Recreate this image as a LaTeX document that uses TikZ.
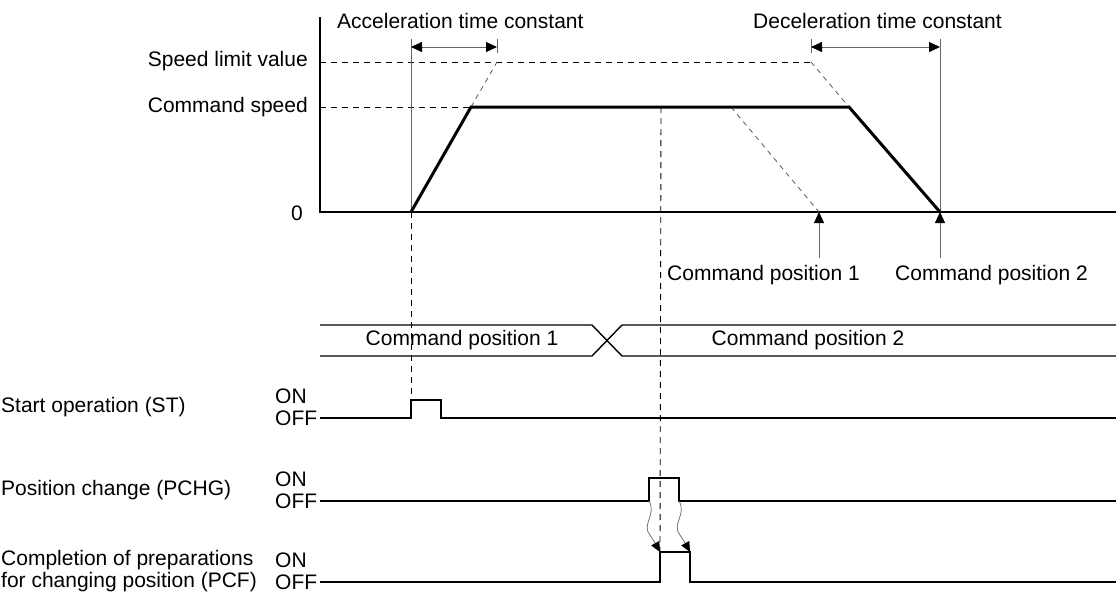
\documentclass[tikz,border=0pt]{standalone}
\usepackage{fontspec}
\setmainfont{Liberation Sans}
\usetikzlibrary{arrows.meta}
\begin{document}
\begin{tikzpicture}[x=1pt,y=-1pt,
  lbl/.style={inner sep=0pt, font=\fontsize{21}{24}\selectfont},
  axisline/.style={line width=1.4pt, black},
  guide/.style={line width=1pt, black!60},
  dashguide/.style={dash pattern=on 6pt off 5pt, line width=0.9pt, black},
  dashgray/.style={dash pattern=on 5pt off 4.5pt, line width=0.8pt, black!65},
  profile/.style={line width=3pt, black, line join=miter},
  sig/.style={line width=1.4pt, black},
  tipup/.style={-{Triangle[length=11pt,width=10pt,color=black]}, line width=1pt, black!60},
  dimarrow/.style={{Triangle[length=11pt,width=10pt,color=black]}-{Triangle[length=11pt,width=10pt,color=black]}, line width=1pt, black!60},
  wavy/.style={-{Triangle[length=10pt,width=9pt,color=black]}, line width=0.7pt, black!60},
]
\useasboundingbox (0,0) rectangle (1116,592);

% ---------- coordinates ----------
\coordinate (Atop) at (320,17);
\coordinate (O) at (320,212);
\coordinate (XE) at (1116,212);
\coordinate (SL) at (320,62);
\coordinate (SLE) at (811,62);
\coordinate (CS) at (320,107);
\coordinate (P0) at (411,212);
\coordinate (P1) at (471,107);
\coordinate (P2) at (849,107);
\coordinate (P3) at (940,212);
\coordinate (AccExt) at (497,62);
\coordinate (D1s) at (731,107);
\coordinate (D1e) at (819,212);
\coordinate (VAtop) at (411,39);
\coordinate (TAt) at (497,39);
\coordinate (TAb) at (497,53);
\coordinate (TDt) at (811,39);
\coordinate (TDb) at (811,53);
\coordinate (VEtop) at (940,39);
\coordinate (AccL) at (411,47);
\coordinate (AccR) at (497,47);
\coordinate (DecL) at (811,47);
\coordinate (DecR) at (940,47);
\coordinate (U1) at (819,258);
\coordinate (U2) at (940,258);
\coordinate (CSv) at (661,107);

% ---------- labels of the speed graph ----------
\node[lbl, anchor=east] (lsl) at (308,61) {Speed limit value};
\node[lbl, anchor=east] (lcs) at (308,107) {Command speed};
\node[lbl, anchor=east] (lzero) at (303,213) {0};
\node[lbl, anchor=west] (lacc) at (337,21) {Acceleration time constant};
\node[lbl, anchor=east] (ldec) at (1002,21) {Deceleration time constant};
\node[lbl, anchor=east] (lcp1) at (860,275) {Command position 1};
\node[lbl, anchor=west] (lcp2) at (895,275) {Command position 2};

% ---------- axes ----------
\draw[axisline] (Atop) -- (O) -- (XE);

% ---------- dashed levels ----------
\draw[dashguide] (SL) -- (SLE);
\draw[dashguide] (CS) -- (P1);
\draw[dashgray] (P1) -- (AccExt);
\draw[dashgray] (SLE) -- (P2);
\draw[dashgray] (D1s) -- (D1e);

% ---------- time constant guides ----------
\draw[guide] (VAtop) -- (P0);
\draw[guide] (VEtop) -- (P3);
\draw[guide] (TAt) -- (TAb);
\draw[guide] (TDt) -- (TDb);
\draw[dimarrow] (AccL) -- (AccR);
\draw[dimarrow] (DecL) -- (DecR);

% ---------- speed profile ----------
\draw[profile] (P0) -- (P1) -- (P2) -- (P3);

% ---------- command position arrows ----------
\draw[tipup] (U1) -- (D1e);
\draw[tipup] (U2) -- (P3);

% ---------- bus ----------
\coordinate (B1) at (320,325);
\coordinate (B2) at (592,325);
\coordinate (B3) at (622,356);
\coordinate (B4) at (1116,356);
\coordinate (B5) at (320,356);
\coordinate (B6) at (592,356);
\coordinate (B7) at (622,325);
\coordinate (B8) at (1116,325);
\draw[sig] (B1) -- (B2) -- (B3) -- (B4);
\draw[sig] (B5) -- (B6) -- (B7) -- (B8);
\node[lbl] (bus1) at (462,340) {Command position 1};
\node[lbl] (bus2) at (808,340) {Command position 2};

% ---------- ST ----------
\node[lbl, anchor=west] (stname) at (1,407) {Start operation (ST)};
\node[lbl, anchor=west] (ston) at (275,396) {ON};
\node[lbl, anchor=west] (stoff) at (275,418) {OFF};
\coordinate (S0) at (320,418);
\coordinate (S1) at (411,418);
\coordinate (S2) at (411,400);
\coordinate (S3) at (441,400);
\coordinate (S4) at (441,418);
\coordinate (S5) at (1116,418);
\draw[sig] (S0) -- (S1) -- (S2) -- (S3) -- (S4) -- (S5);

% ---------- PCHG ----------
\node[lbl, anchor=west] (pcname) at (1,490) {Position change (PCHG)};
\node[lbl, anchor=west] (pcon) at (275,479) {ON};
\node[lbl, anchor=west] (pcoff) at (275,501) {OFF};
\coordinate (C0) at (320,501);
\coordinate (C1) at (649,501);
\coordinate (C2) at (649,478);
\coordinate (C3) at (679,478);
\coordinate (C4) at (679,501);
\coordinate (C5) at (1116,501);
\draw[sig] (C0) -- (C1) -- (C2) -- (C3) -- (C4) -- (C5);

% ---------- PCF ----------
\node[lbl, anchor=west] (pfname1) at (1,560) {Completion of preparations};
\node[lbl, anchor=west] (pfname2) at (1,582) {for changing position (PCF)};
\node[lbl, anchor=west] (pfon) at (275,560) {ON};
\node[lbl, anchor=west] (pfoff) at (275,582) {OFF};
\coordinate (F0) at (320,582);
\coordinate (F1) at (660,582);
\coordinate (F2) at (660,552);
\coordinate (F3) at (690,552);
\coordinate (F4) at (690,582);
\coordinate (F5) at (1116,582);
\draw[sig] (F0) -- (F1) -- (F2) -- (F3) -- (F4) -- (F5);

% ---------- vertical dashed timing lines ----------
\draw[dashguide] (P0) -- (S2);
\draw[dashguide] (CSv) -- (F2);

% ---------- wavy cause arrows ----------
\draw[wavy] (C1) .. controls (657,514) and (641,525) .. (650,535) .. controls (654,541) .. (F2);
\draw[wavy] (C4) .. controls (687,514) and (671,525) .. (680,535) .. controls (684,541) .. (F3);

\end{tikzpicture}
\end{document}
